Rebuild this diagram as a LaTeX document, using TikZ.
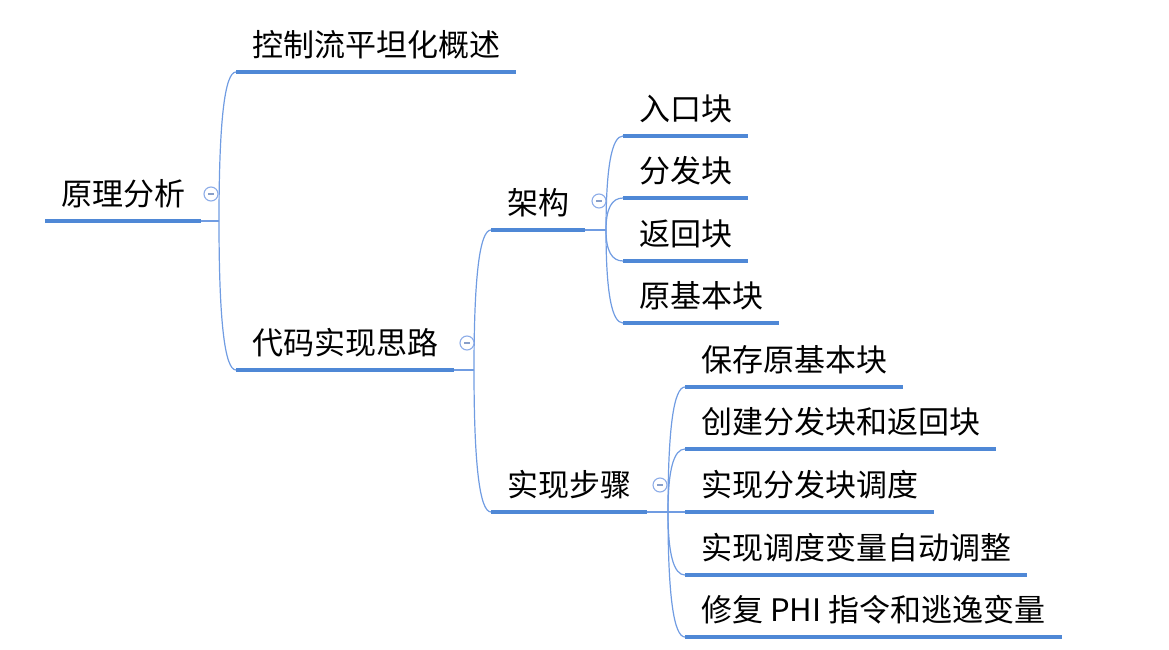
\documentclass[tikz,border=0pt]{standalone}
\usepackage{fontspec}
\newfontfamily\cjk{Noto Sans CJK SC}
\definecolor{linemain}{RGB}{79,136,214}
\definecolor{linethin}{RGB}{112,156,226}
\definecolor{btnblue}{RGB}{140,172,232}
\usetikzlibrary{positioning}
\usetikzlibrary{calc}
\tikzset{
  topic/.style={anchor=south west,inner xsep=16pt,inner ysep=15pt,text depth=0pt,font=\cjk\fontsize{31}{37}\selectfont},
  uline/.style={linemain,line width=3.5pt},
  conn/.style={linethin,line width=1.2pt},
  fold/.style={circle,draw=btnblue,fill=white,line width=1.1pt,minimum size=14pt,inner sep=0pt,
    path picture={\draw[btnblue!70!gray,line width=1.4pt]([xshift=-3pt]path picture bounding box.center)--([xshift=3pt]path picture bounding box.center);}}
}
\newcommand*{\branch}[2]{\foreach\c in{#2}\draw[conn](#1)..controls($(#1)!0.667!(#1|-\c.south west)$)and($(\c.south west)!0.667!(#1|-\c.south west)$)..(\c.south west);}

\begin{document}
\begin{tikzpicture}[x=1pt,y=-1pt]
\useasboundingbox(0,0)rectangle(1169,650);

% topics
\node[topic](root)at(45,221){原理分析};
\node[topic](ovw)at(236,72){控制流平坦化概述};
\node[topic](impl)at(236,370){代码实现思路};
\node[topic](arch)at(491,230){架构};
\node[topic](steps)at(491,512){实现步骤};

\node[topic](entry)at(623,136){入口块};
\node[topic](disp)at(623,198){分发块};
\node[topic](ret)at(623,261){返回块};
\node[topic](orig)at(623,323){原基本块};

\node[topic](save)at(685,387){保存原基本块};
\node[topic](create)at(685,449){创建分发块和返回块};
\node[topic](sched)at(685,512){实现分发块调度};
\node[topic](adjust)at(685,575){实现调度变量自动调整};
\node[topic](fix)at(685,637){修复 PHI 指令和逃逸变量};

% forks
\coordinate(rootfork)at(219,221);
\coordinate(implfork)at(474,370);
\coordinate(archfork)at(606,230);
\coordinate(stepsfork)at(668,512);

\draw[conn](root.south east)--(rootfork);
\draw[conn](impl.south east)--(implfork);
\draw[conn](arch.south east)--(archfork);
\draw[conn](steps.south east)--(stepsfork);

\branch{rootfork}{ovw,impl}
\branch{implfork}{arch,steps}
\branch{archfork}{entry,disp,ret,orig}
\branch{stepsfork}{save,create,sched,adjust,fix}

% underlines
\foreach\n in{root,ovw,impl,arch,steps,entry,disp,ret,orig,save,create,sched,adjust,fix}
  \draw[uline](\n.south west)--(\n.south east);

% fold buttons
\node[fold](rootbtn)at([shift={(-8,-27)}]rootfork){};
\node[fold](implbtn)at([shift={(-7,-27)}]implfork){};
\node[fold](archbtn)at([shift={(-7,-29)}]archfork){};
\node[fold](stepsbtn)at([shift={(-8,-27)}]stepsfork){};

\end{tikzpicture}
\end{document}
